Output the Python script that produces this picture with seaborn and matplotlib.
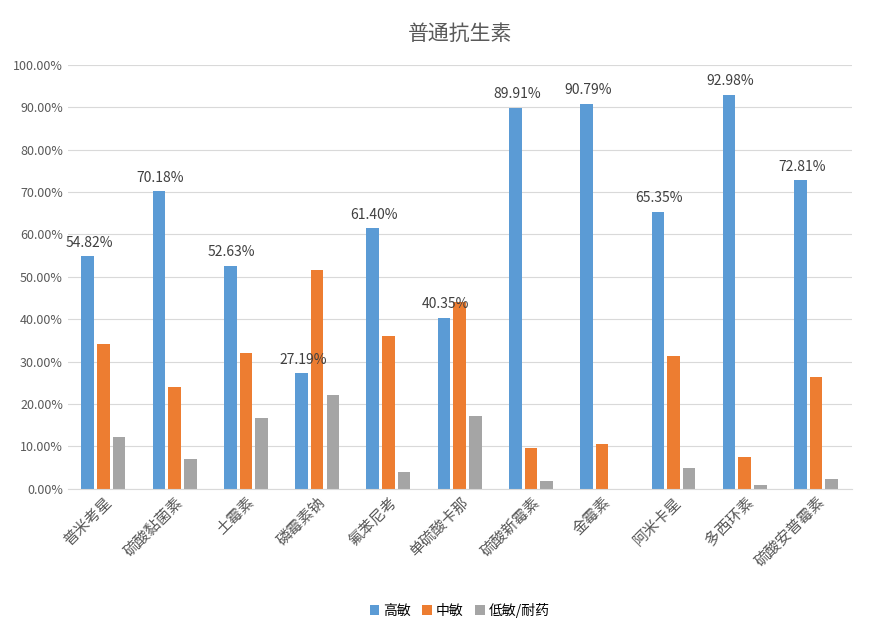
import pandas as pd
import matplotlib.pyplot as plt
import seaborn as sns
from matplotlib import font_manager
from matplotlib.ticker import FuncFormatter

# pick whichever CJK family is actually registered
names = {f.name for f in font_manager.fontManager.ttflist}
cjk = [n for n in ['Noto Sans CJK SC', 'Noto Sans CJK JP', 'Noto Sans CJK TC',
                   'Noto Sans CJK KR', 'Noto Sans SC'] if n in names]
if not cjk:
    cjk = sorted(n for n in names if 'CJK' in n)
plt.rcParams['font.family'] = 'sans-serif'
plt.rcParams['font.sans-serif'] = cjk + ['DejaVu Sans']

drugs = ['普米考星', '硫酸黏菌素', '土霉素', '磷霉素钠', '氟苯尼考', '单硫酸卡那',
         '硫酸新霉素', '金霉素', '阿米卡星', '多西环素', '硫酸安普霉素']
high = [54.82, 70.18, 52.63, 27.19, 61.40, 40.35, 89.91, 90.79, 65.35, 92.98, 72.81]
mid = [34.2, 24.1, 31.9, 51.7, 36.0, 44.0, 9.6, 10.5, 31.2, 7.5, 26.3]
low = [12.3, 7.0, 16.7, 22.2, 3.9, 17.1, 1.8, 0.0, 4.8, 0.9, 2.3]
groups = ['高敏', '中敏', '低敏/耐药']

df = pd.DataFrame({'drug': drugs * 3,
                   'group': sum([[g] * len(drugs) for g in groups], []),
                   'value': high + mid + low})

fig = plt.figure(figsize=(8.69, 6.29), dpi=100)
ax = fig.add_axes([0.078, 0.223, 0.902, 0.674])
sns.barplot(data=df, x='drug', y='value', hue='group', ax=ax, saturation=1,
            palette=['#5B9BD5', '#ED7D31', '#A5A5A5'], width=0.66, gap=0.2)

ax.set_ylim(0, 100)
ax.set_yticks(range(0, 101, 10))
ax.yaxis.set_major_formatter(FuncFormatter(lambda v, p: f'{v:.2f}%'))
ax.grid(axis='y', color='#D9D9D9', lw=0.8)
ax.set_axisbelow(True)
for s in ['top', 'right', 'left']:
    ax.spines[s].set_visible(False)
ax.spines['bottom'].set_color('#D9D9D9')
ax.tick_params(axis='both', length=0, colors='#595959', labelsize=9)
ax.tick_params(axis='x', labelsize=11)
plt.setp(ax.get_xticklabels(), rotation=45, ha='right', rotation_mode='anchor')
ax.set_xlabel('')
ax.set_ylabel('')

for i, v in enumerate(high):
    ax.text(i - 0.2, v + 1.5, f'{v:.2f}%', ha='center', va='bottom', fontsize=10, color='#404040')

ax.set_title('普通抗生素', fontsize=15, color='#595959', pad=18)
ax.legend(loc='upper center', bbox_to_anchor=(0.5, -0.24), ncol=3, frameon=False,
          fontsize=10, handlelength=0.7, handleheight=0.7, columnspacing=0.8, handletextpad=0.3)

fig.savefig('out.png', dpi=100)
